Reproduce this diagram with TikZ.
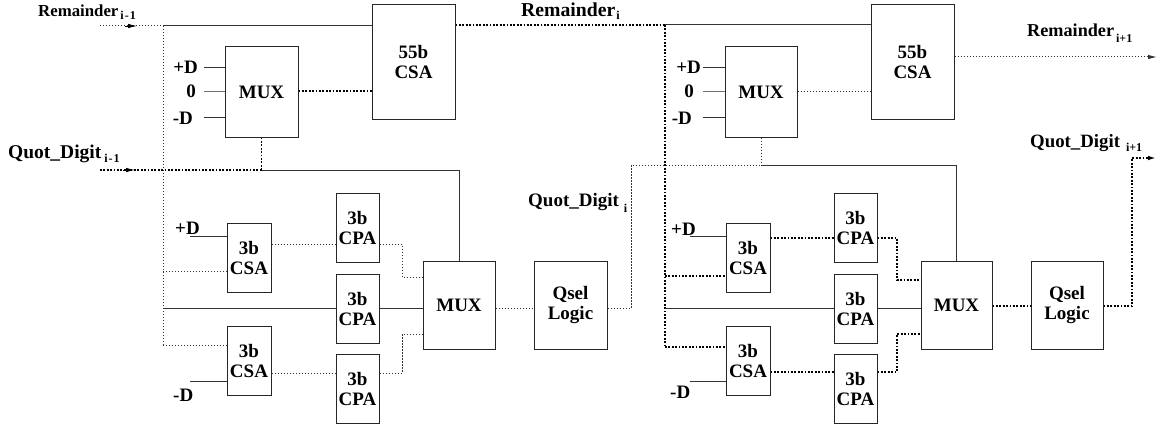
\documentclass[tikz,border=0pt]{standalone}
\usepackage{fontspec}
\setmainfont{Liberation Serif}
\usetikzlibrary{arrows.meta}
\newcommand\fsz[1]{\fontsize{#1}{#1}\selectfont}
\begin{document}
\begin{tikzpicture}[x=1pt,y=-1pt,
  box/.style={draw=black!85, line width=1pt, inner sep=0pt, align=center, font=\bfseries\fontsize{19}{20}\selectfont},
  lbl/.style={inner sep=0pt, font=\bfseries},
  wire/.style={line width=1pt, draw=black!80},
  thindot/.style={line width=1pt, draw=black!80, dash pattern=on 1.2pt off 1.8pt},
  thickdot/.style={line width=1.8pt, draw=black, dash pattern=on 1.8pt off 1.6pt},
  endtip/.style={-{Latex[length=9pt,width=4.5pt]}},
  headonly/.style={line width=0.8pt, draw=black, -{Latex[length=9pt,width=4.5pt]}},
]
\useasboundingbox (0,0) rectangle (1166,428);

% ---------- stage 1 boxes ----------
\node[box, minimum width=83pt, minimum height=114pt] (csaA) at (413.5,62) {55b\\CSA};
\node[box, minimum width=73pt, minimum height=90pt] (mux1u) at (261.5,92) {MUX};
\node[box, minimum width=44pt, minimum height=69pt] (csa3a1) at (249,257.5) {3b\\CSA};
\node[box, minimum width=44pt, minimum height=69pt] (csa3b1) at (249,360.5) {3b\\CSA};
\node[box, minimum width=43pt, minimum height=69pt] (cpa1a) at (357.5,227.5) {3b\\CPA};
\node[box, minimum width=43pt, minimum height=69pt] (cpa1b) at (357.5,308.5) {3b\\CPA};
\node[box, minimum width=43pt, minimum height=69pt] (cpa1c) at (357.5,388.5) {3b\\CPA};
\node[box, minimum width=72pt, minimum height=88pt] (mux1l) at (459,305) {MUX};
\node[box, minimum width=73pt, minimum height=88pt] (qsel1) at (570.5,305) {Qsel\\Logic};

% ---------- stage 2 boxes ----------
\node[box, minimum width=83pt, minimum height=114pt] (csaB) at (912.5,62) {55b\\CSA};
\node[box, minimum width=72pt, minimum height=90pt] (mux2u) at (761,92) {MUX};
\node[box, minimum width=44pt, minimum height=69pt] (csa3a2) at (748,257.5) {3b\\CSA};
\node[box, minimum width=44pt, minimum height=69pt] (csa3b2) at (748,360.5) {3b\\CSA};
\node[box, minimum width=43pt, minimum height=69pt] (cpa2a) at (855.5,227.5) {3b\\CPA};
\node[box, minimum width=43pt, minimum height=69pt] (cpa2b) at (855.5,308.5) {3b\\CPA};
\node[box, minimum width=43pt, minimum height=69pt] (cpa2c) at (855.5,388.5) {3b\\CPA};
\node[box, minimum width=71pt, minimum height=88pt] (mux2l) at (956.5,305) {MUX};
\node[box, minimum width=72pt, minimum height=88pt] (qsel2) at (1067,305) {Qsel\\Logic};

% ---------- labels ----------
\node[lbl, anchor=base west] (tRem0) at (38,17) {\fsz{16.8}Remainder\kern2pt\raisebox{-3pt}{\fsz{12}i\kern1pt-\kern1pt1}};
\node[lbl, anchor=base west] (tQuot0) at (8,158) {\fsz{19.5}Quot\_Digit\kern3pt\raisebox{-4pt}{\fsz{12}i\kern1pt-\kern1pt1}};
\node[lbl, anchor=base west] (tRem1) at (521,17) {\fsz{19.7}Remainder\kern1pt\raisebox{-2pt}{\fsz{12}i}};
\node[lbl, anchor=base west] (tQuot1) at (528,206) {\fsz{19}Quot\_Digit\kern5pt\raisebox{-6pt}{\fsz{12}i}};
\node[lbl, anchor=base west] (tRem2) at (1027,37) {\fsz{18.2}Remainder\kern2pt\raisebox{-6pt}{\fsz{12}i+1}};
\node[lbl, anchor=base west] (tQuot2) at (1030,147) {\fsz{18.8}Quot\_Digit\kern6pt\raisebox{-4pt}{\fsz{12}i+1}};

\node[lbl, anchor=east] (pD1) at (198,67) {\fsz{19}+D};
\node[lbl, anchor=east] (zD1) at (196,91) {\fsz{19}0};
\node[lbl, anchor=east] (mD1) at (193,118) {\fsz{19}-D};
\node[lbl, anchor=east] (pD2) at (701,67) {\fsz{19}+D};
\node[lbl, anchor=east] (zD2) at (694,91) {\fsz{19}0};
\node[lbl, anchor=east] (mD2) at (692,118) {\fsz{19}-D};

\node[lbl, anchor=base west] (pL1) at (175,234) {\fsz{19}+D};
\node[lbl, anchor=base west] (mL1) at (173,401) {\fsz{19}-D};
\node[lbl, anchor=base west] (pL2) at (671,235) {\fsz{19}+D};
\node[lbl, anchor=base west] (mL2) at (670,398) {\fsz{19}-D};

% ---------- coordinates ----------
\coordinate (rin1) at (100,26);
\coordinate (rat1) at (125,26);
\coordinate (rah1) at (137,26);
\coordinate (rj1) at (163,26);
\coordinate (ra1) at (163,271);
\coordinate (rm1) at (163,308.5);
\coordinate (rb1) at (163,345);
\coordinate (qin1) at (100,170);
\coordinate (qat1) at (123,170);
\coordinate (qah1) at (135,170);
\coordinate (ya1) at (300,244);
\coordinate (yb1) at (300,373);
\coordinate (bend1a) at (402,277);
\coordinate (bend1b) at (402,334);
\coordinate (ql1) at (515,308);
\coordinate (qo1) at (631,165);
\coordinate (pdu1) at (190,236);
\coordinate (mdu1) at (190,381);

\coordinate (rj2) at (665,25);
\coordinate (ra2) at (665,276);
\coordinate (rm2) at (665,308.5);
\coordinate (rb2) at (665,347);
\coordinate (ya2) at (800,238);
\coordinate (yb2) at (800,372);
\coordinate (bend2a) at (897,280);
\coordinate (bend2b) at (897,334);
\coordinate (ql2) at (1010,306);
\coordinate (qo2) at (1132,158);
\coordinate (qend2) at (1157,158);
\coordinate (rend2) at (1157,57);
\coordinate (pdu2) at (690,236);
\coordinate (mdu2) at (690,381);

% ---------- stage 1 connectors ----------
\draw[thindot] (rin1) -- (rj1);
\draw[headonly] (rat1) -- (rah1);
\draw[wire] (rj1) -- (csaA.west |- rj1);
\draw[thindot] (rj1) -- (rb1);
\draw[wire] (mux1u.west |- pD1) -- ++(-21,0);
\draw[wire, draw=black!55] (mux1u.west |- zD1) -- ++(-21,0);
\draw[wire] (mux1u.west |- 0,117) -- ++(-21,0);
\draw[thickdot] (mux1u.east |- 0,91) -- (csaA.west |- 0,91);
\draw[thickdot] (qin1) -- (mux1u.south |- qin1);
\draw[headonly] (qat1) -- (qah1);
\draw[thickdot] (mux1u.south) -- (mux1u.south |- qin1);
\draw[wire] (mux1u.south |- qin1) -| (mux1l.north);

\draw[wire] (pdu1) -- (csa3a1.west |- pdu1);
\draw[thindot] (ra1) -- (csa3a1.west |- ra1);
\draw[thindot] (csa3a1.east |- ya1) -- (cpa1a.west |- ya1);
\draw[thindot] (cpa1a.east |- ya1) -| (bend1a) -- (mux1l.west |- bend1a);
\draw[wire] (rm1) -- (cpa1b.west);
\draw[wire] (cpa1b.east) -- (mux1l.west |- cpa1b.east);
\draw[thindot] (rb1) -- (csa3b1.west |- rb1);
\draw[wire] (mdu1) -- (csa3b1.west |- mdu1);
\draw[thindot] (csa3b1.east |- yb1) -- (cpa1c.west |- yb1);
\draw[thindot] (cpa1c.east |- yb1) -| (bend1b) -- (mux1l.west |- bend1b);
\draw[thindot] (mux1l.east |- ql1) -- (qsel1.west |- ql1);

% ---------- between stages ----------
\draw[thickdot] (csaA.east |- rj2) -- (rj2);
\draw[thindot] (qsel1.east |- ql1) -| (qo1) -- (mux2u.south |- qo1);

% ---------- stage 2 connectors ----------
\draw[wire] (rj2) -- (csaB.west |- rj2);
\draw[thickdot] (rj2) -- (rb2);
\draw[wire] (mux2u.west |- pD2) -- ++(-22,0);
\draw[wire, draw=black!55] (mux2u.west |- zD2) -- ++(-22,0);
\draw[wire] (mux2u.west |- 0,117) -- ++(-22,0);
\draw[thindot] (mux2u.east |- 0,91) -- (csaB.west |- 0,91);
\draw[thindot] (mux2u.south) -- (mux2u.south |- qo1);
\draw[wire] (mux2u.south |- qo1) -| (mux2l.north);
\draw[thindot, endtip] (csaB.east |- rend2) -- (rend2);

\draw[wire] (pdu2) -- (csa3a2.west |- pdu2);
\draw[thickdot] (ra2) -- (csa3a2.west |- ra2);
\draw[thickdot] (csa3a2.east |- ya2) -- (cpa2a.west |- ya2);
\draw[thickdot] (cpa2a.east |- ya2) -| (bend2a) -- (mux2l.west |- bend2a);
\draw[wire] (rm2) -- (cpa2b.west);
\draw[wire] (cpa2b.east) -- (mux2l.west |- cpa2b.east);
\draw[thickdot] (rb2) -- (csa3b2.west |- rb2);
\draw[wire] (mdu2) -- (csa3b2.west |- mdu2);
\draw[thickdot] (csa3b2.east |- yb2) -- (cpa2c.west |- yb2);
\draw[thickdot] (cpa2c.east |- yb2) -| (bend2b) -- (mux2l.west |- bend2b);
\draw[thickdot] (mux2l.east |- ql2) -- (qsel2.west |- ql2);
\draw[thickdot, endtip] (qsel2.east |- ql2) -| (qo2) -- (qend2);
\end{tikzpicture}
\end{document}
